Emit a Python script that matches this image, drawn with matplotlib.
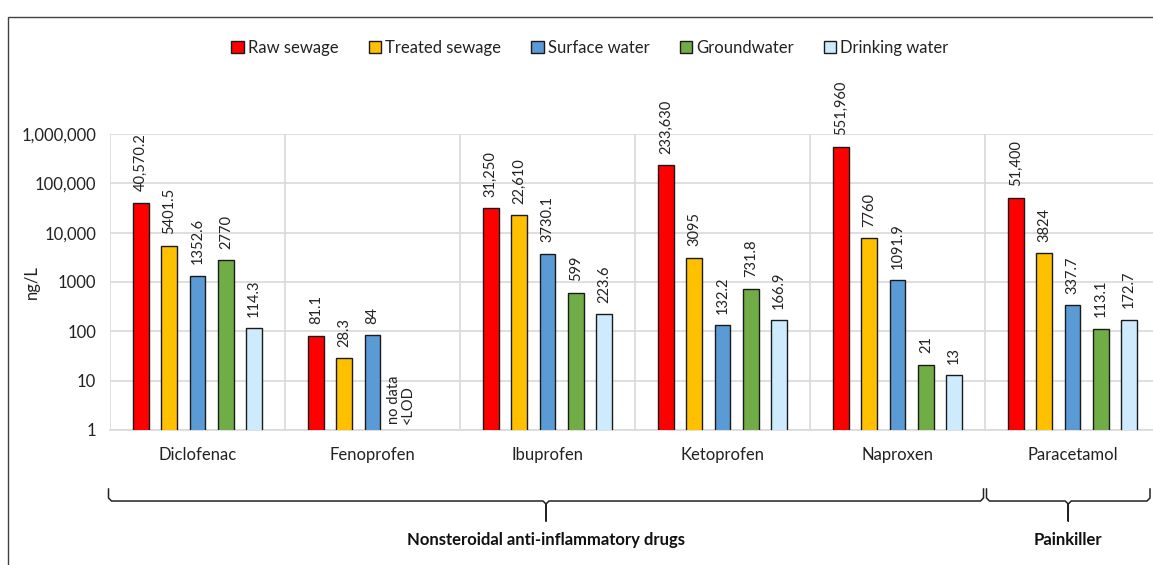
import matplotlib
matplotlib.use("Agg")
import matplotlib.pyplot as plt
import numpy as np
from matplotlib.patches import Rectangle
from matplotlib.lines import Line2D
from matplotlib.transforms import blended_transform_factory

plt.rcParams['font.family'] = ['Lato', 'DejaVu Sans']

drugs = ["Diclofenac", "Fenoprofen", "Ibuprofen", "Ketoprofen", "Naproxen", "Paracetamol"]
series = ["Raw sewage", "Treated sewage", "Surface water", "Groundwater", "Drinking water"]
colors = ["#FF0000", "#FFC000", "#5B9BD5", "#70AD47", "#CDEBFC"]

raw_sewage     = [40570.2, 81.1, 31250, 233630, 551960, 51400]
treated_sewage = [5401.5, 28.3, 22610, 3095, 7760, 3824]
surface_water  = [1352.6, 84, 3730.1, 132.2, 1091.9, 337.7]
groundwater    = [2770, np.nan, 599, 731.8, 21, 113.1]
drinking_water = [114.3, np.nan, 223.6, 166.9, 13, 172.7]

raw_labels      = ["40,570.2", "81.1", "31,250", "233,630", "551,960", "51,400"]
treated_labels  = ["5401.5", "28.3", "22,610", "3095", "7760", "3824"]
surface_labels  = ["1352.6", "84", "3730.1", "132.2", "1091.9", "337.7"]
ground_labels   = ["2770", "", "599", "731.8", "21", "113.1"]
drinking_labels = ["114.3", "", "223.6", "166.9", "13", "172.7"]

missing_note = "no data\n<LOD"
missing_index = 1  # Fenoprofen

groups = [("Nonsteroidal anti-inflammatory drugs", 0, 4), ("Painkiller", 5, 5)]

ytick_vals = [1, 10, 100, 1000, 10000, 100000, 1000000]
ytick_labels = ["1", "10", "100", "1000", "10,000", "100,000", "1,000,000"]

W, H = 1153, 565
fig = plt.figure(figsize=(W / 100, H / 100), dpi=100)

# frame border (partially cropped)
fig.patches.append(Rectangle((8 / W, -0.1), 1.2, 1 - 17 / H + 0.1, transform=fig.transFigure,
                             fill=False, edgecolor="#404040", linewidth=1.0))

ax_left, ax_right = 110, 1160
ax_bottom, ax_top = 430, 134
ax = fig.add_axes([ax_left / W, 1 - ax_bottom / H, (ax_right - ax_left) / W, (ax_bottom - ax_top) / H])

all_vals = [raw_sewage, treated_sewage, surface_water, groundwater, drinking_water]
all_labels = [raw_labels, treated_labels, surface_labels, ground_labels, drinking_labels]

x = np.arange(len(drugs))
step = 0.162
width = 0.089
for i, (vals, lbls, c, name) in enumerate(zip(all_vals, all_labels, colors, series)):
    xs = x + (i - 2) * step
    ax.bar(xs, vals, width=width, color=c, edgecolor="#1a1a1a", linewidth=1.0, label=name, zorder=3)
    for xi, v, l in zip(xs, vals, lbls):
        if l and not np.isnan(v):
            ax.annotate(l, (xi, v), xytext=(0, 8.3), textcoords="offset points",
                        rotation=90, ha="center", va="bottom", fontsize=10.5, color="#222222")

# no data note
ax.annotate(missing_note, (x[missing_index] + 1 * step, 1), xytext=(0, 4), textcoords="offset points",
            rotation=90, ha="center", va="bottom", multialignment="left",
            fontsize=10.5, color="#222222", linespacing=1.0)

ax.set_yscale("log")
ax.set_ylim(1, 1e6)
ax.set_xlim(-0.5, len(drugs) - 0.5)
ax.set_yticks(ytick_vals)
ax.set_yticklabels(ytick_labels)
ax.yaxis.set_minor_locator(matplotlib.ticker.NullLocator())
ax.set_xticks(x)
ax.set_xticklabels(drugs)
ax.tick_params(axis="both", length=0, labelsize=12, colors="#222222")
ax.tick_params(axis="y", pad=10)
ax.tick_params(axis="x", pad=12)
ax.set_ylabel("ng/L", fontsize=12, color="#222222")
ax.yaxis.set_label_coords(40 / W, 0.5, transform=blended_transform_factory(fig.transFigure, ax.transAxes))

# grid
ax.grid(axis="y", color="#D9D9D9", linewidth=1.2, zorder=0)
for b in np.arange(-0.5, len(drugs) + 0.5, 1.0):
    ax.axvline(b, color="#D9D9D9", linewidth=1.2, zorder=0)
for s in ["top", "right", "left"]:
    ax.spines[s].set_visible(False)
ax.spines["bottom"].set_color("#D9D9D9")
ax.spines["bottom"].set_linewidth(1.2)

# legend
leg = ax.legend(loc="center", bbox_to_anchor=(590 / W, 1 - 48 / H), bbox_transform=fig.transFigure,
                ncol=5, frameon=False, fontsize=12, handlelength=0.75, handleheight=0.75,
                handletextpad=0.25, columnspacing=1.8)
for t in leg.get_texts():
    t.set_color("#222222")

# braces
def to_fig_x(xd):
    return fig.transFigure.inverted().transform(ax.transData.transform((xd, 1)))[0]

y_top = 1 - 489 / H
y_mid = 1 - 501 / H
y_tip = 1 - 521 / H
r = 3 / W
rv = 3 / H
for name, i0, i1 in groups:
    x0 = to_fig_x(i0 - 0.5) - 1.5 / W + (3 / W if i0 > 0 else 0)
    x1 = min(to_fig_x(i1 + 0.5) - 1.5 / W, 1150 / W)
    xc = (x0 + x1) / 2
    xs_b = [x0, x0, x0 + r, xc - r, xc, xc, xc, xc + r, x1 - r, x1, x1]
    ys_b = [y_top, y_mid + rv, y_mid, y_mid, y_mid - rv, y_tip, y_mid - rv, y_mid, y_mid, y_mid + rv, y_top]
    fig.lines.append(Line2D(xs_b, ys_b, transform=fig.transFigure, color="#222222", linewidth=1.1))
    fig.text(xc, 1 - 540 / H, name, ha="center", va="center", fontsize=12, fontweight="bold", color="#111111")

fig.savefig("out.png", dpi=100)
